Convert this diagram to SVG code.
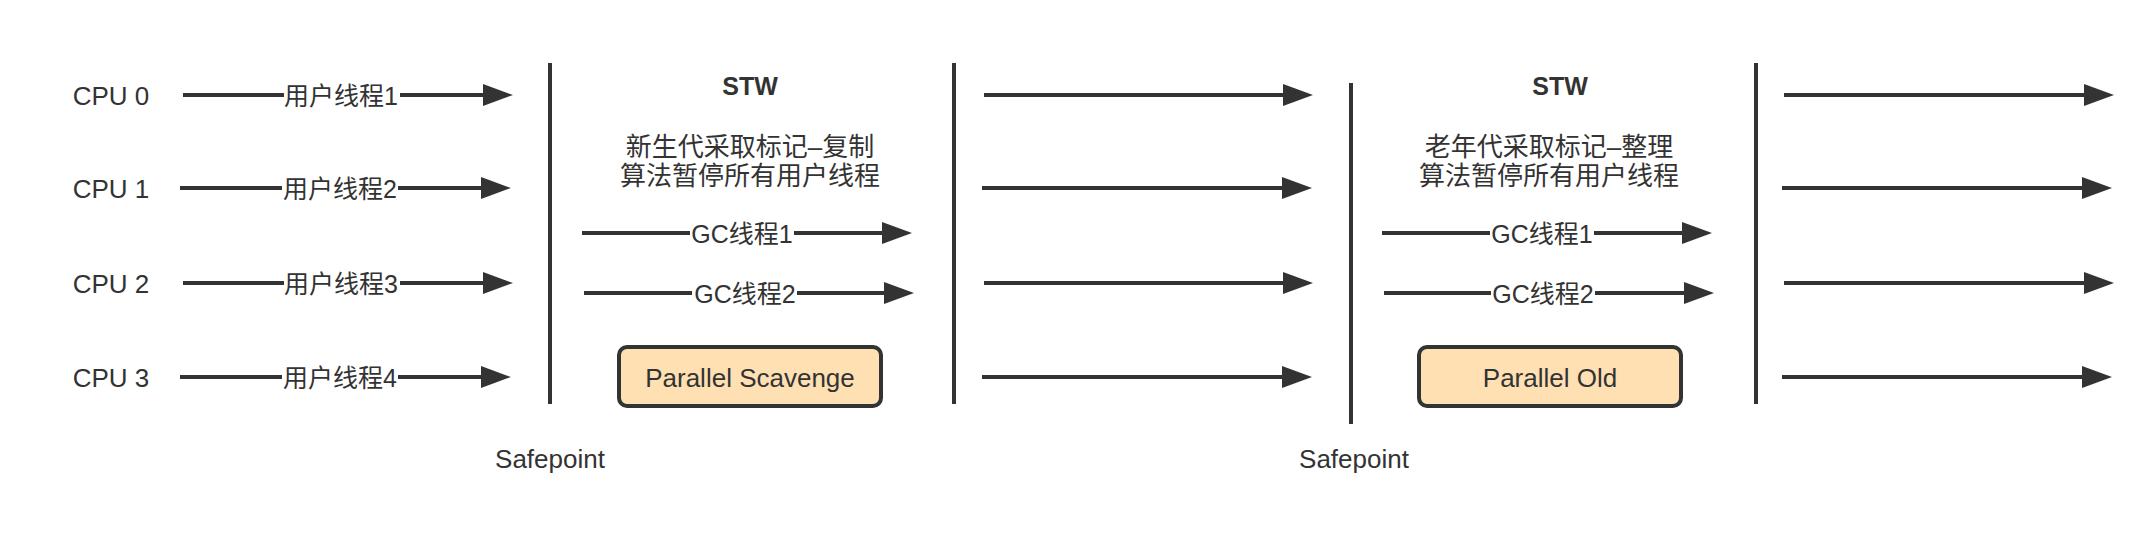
<svg xmlns="http://www.w3.org/2000/svg" width="2154" height="547" viewBox="0 0 2154 547">
  <defs>
    <marker id="ah" markerUnits="userSpaceOnUse" markerWidth="31" markerHeight="22" viewBox="0 0 31 22" refX="1" refY="11" orient="auto">
      <path d="M0,0 L30,11 L0,22 z" fill="#333333"/>
    </marker>
    <style>
      .t { font-family: "Liberation Sans", "Noto Sans CJK SC", sans-serif; fill: #333333; text-anchor: middle; }
      .lbl { font-size: 26px; }
      .al { font-size: 25px; }
      .stw { font-size: 25px; font-weight: bold; }
      .conn { fill: none; stroke: #333333; stroke-width: 4; marker-end: url(#ah); }
      .sp { stroke: #333333; stroke-width: 4; fill: none; }
      .box { fill: #ffe0b2; stroke: #333333; stroke-width: 4; }
    </style>
  </defs>
  <rect x="0" y="0" width="2154" height="547" fill="#ffffff"/>

  <g id="cpu-labels">
    <g id="cpu0"><text class="t lbl" x="111" y="105">CPU 0</text></g>
    <g id="cpu1"><text class="t lbl" x="111" y="198">CPU 1</text></g>
    <g id="cpu2"><text class="t lbl" x="111" y="293">CPU 2</text></g>
    <g id="cpu3"><text class="t lbl" x="111" y="387">CPU 3</text></g>
  </g>

  <g id="safepoint-lines">
    <g id="sp1"><line class="sp" x1="550" y1="63" x2="550" y2="404"/></g>
    <g id="sp2"><line class="sp" x1="954" y1="63" x2="954" y2="404"/></g>
    <g id="sp3"><line class="sp" x1="1351" y1="83" x2="1351" y2="424"/></g>
    <g id="sp4"><line class="sp" x1="1756" y1="63" x2="1756" y2="404"/></g>
  </g>

  <g id="stw1">
    <text class="t stw" x="750" y="95">STW</text>
    <text class="t lbl" x="750" y="156">新生代采取标记–复制</text>
    <text class="t lbl" x="750" y="185">算法暂停所有用户线程</text>
  </g>
  <g id="stw2">
    <text class="t stw" x="1560" y="95">STW</text>
    <text class="t lbl" x="1549" y="156">老年代采取标记–整理</text>
    <text class="t lbl" x="1549" y="185">算法暂停所有用户线程</text>
  </g>

  <g id="parallel-scavenge">
    <rect class="box" x="619" y="347" width="262" height="59" rx="8" ry="8"/>
    <text class="t lbl" x="750" y="387">Parallel Scavenge</text>
  </g>
  <g id="parallel-old">
    <rect class="box" x="1419" y="347" width="262" height="59" rx="8" ry="8"/>
    <text class="t lbl" x="1550" y="387">Parallel Old</text>
  </g>

  <g id="safepoint-labels">
    <g id="safepoint1"><text class="t lbl" x="550" y="468">Safepoint</text></g>
    <g id="safepoint2"><text class="t lbl" x="1354" y="468">Safepoint</text></g>
  </g>

  <g id="connectors">
    <path class="conn" d="M183 95 H284 M400 95 H484"/>
    <path class="conn" d="M180 188 H282 M398 188 H482"/>
    <path class="conn" d="M183 283 H284 M400 283 H484"/>
    <path class="conn" d="M180 377 H282 M398 377 H482"/>

    <path class="conn" d="M582 233 H690 M794 233 H883"/>
    <path class="conn" d="M584 293 H692 M797 293 H885"/>

    <path class="conn" d="M984 95 H1284"/>
    <path class="conn" d="M982 188 H1283"/>
    <path class="conn" d="M984 283 H1284"/>
    <path class="conn" d="M982 377 H1283"/>

    <path class="conn" d="M1382 233 H1490 M1594 233 H1683"/>
    <path class="conn" d="M1384 293 H1491 M1595 293 H1685"/>

    <path class="conn" d="M1784 95 H2085"/>
    <path class="conn" d="M1782 188 H2083"/>
    <path class="conn" d="M1784 283 H2085"/>
    <path class="conn" d="M1782 377 H2083"/>
  </g>

  <g id="connector-labels">
    <text class="t al" x="341" y="105">用户线程1</text>
    <text class="t al" x="340" y="198">用户线程2</text>
    <text class="t al" x="341" y="293">用户线程3</text>
    <text class="t al" x="340" y="387">用户线程4</text>
    <text class="t al" x="742" y="243">GC线程1</text>
    <text class="t al" x="745" y="303">GC线程2</text>
    <text class="t al" x="1542" y="243">GC线程1</text>
    <text class="t al" x="1543" y="303">GC线程2</text>
  </g>
</svg>
